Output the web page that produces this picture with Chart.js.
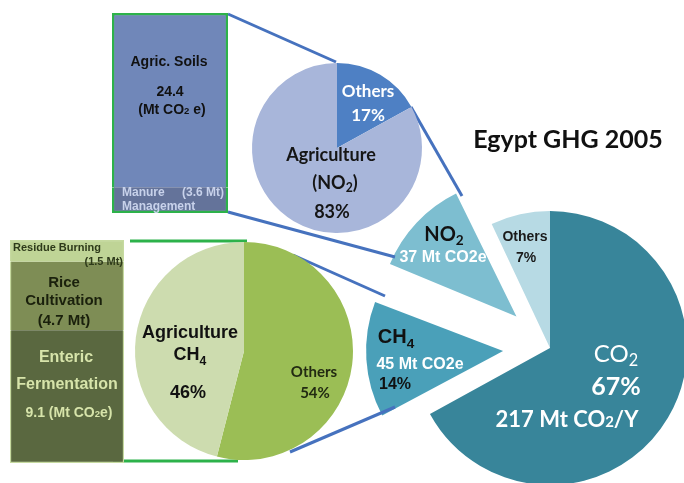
<!DOCTYPE html>
<html lang="en">
<head>
<meta charset="UTF-8">
<title>Egypt GHG 2005</title>
<script src="https://cdn.jsdelivr.net/npm/chart.js"></script>
<style>
  html, body { margin: 0; padding: 0; background: #fff; }
  #stage { position: relative; width: 684px; height: 483px; overflow: hidden; }
  #stage canvas { position: absolute; left: 0; top: 0; }
</style>
</head>
<body>
<div id="stage">
  <canvas id="ghg" width="684" height="483"></canvas>
  <canvas id="no2" width="684" height="483"></canvas>
  <canvas id="ch4" width="684" height="483"></canvas>
  <canvas id="no2src" width="684" height="483"></canvas>
  <canvas id="ch4src" width="684" height="483"></canvas>
</div>
<script>
// --- data ---
const gasLabels = ['CO2', 'CH4', 'NO2', 'Others'];
const gasShares = [67, 14, 12, 7];
const gasMt = [217, 45, 37];

const no2Labels = ['Others', 'Agriculture'];
const no2Shares = [17, 83];

const ch4Labels = ['Others', 'Agriculture'];
const ch4Shares = [54, 46];

const no2Sources = ['Manure Management', 'Agric. Soils'];
const no2SourceMt = [3.6, 24.4];

const ch4Sources = ['Enteric Fermentation', 'Rice Cultivation', 'Residue Burning'];
const ch4SourceMt = [9.1, 4.7, 1.5];

// --- styles ---
const gasColors = ['#38859a', '#4aa0b9', '#7dbed0', '#b7dae4'];
const gasExplode = [0, 188, 184, 0];
const no2Colors = ['#4e80c4', '#a8b6da'];
const ch4Colors = ['#9bbe55', '#cddcaf'];
const no2SrcColors = ['#64739a', '#7087b9'];
const ch4SrcColors = ['#5a6840', '#7e8d55', '#bfd496'];
const GREEN = '#2db24a';
const BLUE = '#4672be';
const PALE = '#c6daa0';
const ARIAL = 'Liberation Sans';
const CALIBRI = 'Lato';

Chart.defaults.animation = false;
Chart.defaults.events = [];
Chart.defaults.plugins.legend.display = false;
Chart.defaults.plugins.tooltip.enabled = false;

// text like 'NO{2}' -> NO with a subscript 2
function drawText(ctx, l) {
  const weight = l.bold === false ? '' : 'bold ';
  const fam = l.font || ARIAL;
  const parts = l.text.split(/(\{[^}]*\})/).filter(s => s).map(s => {
    const sub = s[0] === '{';
    const text = sub ? s.slice(1, -1) : s;
    const size = sub ? l.size * 0.68 : l.size;
    ctx.font = weight + size + 'px "' + fam + '"';
    return { text, sub, size, width: ctx.measureText(text).width };
  });
  const total = parts.reduce((s, p) => s + p.width, 0);
  let x = l.align === 'left' ? l.x : l.align === 'right' ? l.x - total : l.x - total / 2;
  ctx.save();
  ctx.fillStyle = l.color;
  ctx.textBaseline = 'middle';
  ctx.textAlign = 'left';
  parts.forEach(p => {
    ctx.font = weight + p.size + 'px "' + fam + '"';
    ctx.fillText(p.text, x, l.y + (p.sub ? l.size * (l.subDrop || 0.28) : 0));
    x += p.width;
  });
  ctx.restore();
}

function textPlugin(list) {
  return {
    id: 'texts',
    afterDatasetsDraw(chart) {
      list.forEach(l => drawText(chart.ctx, l));
    }
  };
}

// chart.js pushes exploded slices out but also grows them; keep their radius
const keepRadius = {
  id: 'keepRadius',
  afterUpdate(chart) {
    chart.getDatasetMeta(0).data.forEach(arc => {
      const off = (arc.options.offset || 0) / 4;
      const fix = 1 - Math.sin(Math.min(Math.PI, arc.circumference));
      arc.outerRadius -= off * fix;
    });
  }
};

const blueLinks = [[228, 14, 336, 62], [411, 107, 462, 196], [228, 212, 395, 257],
                   [293, 255, 385, 296], [290, 452, 395, 407]];
const greenLinks = [[130, 241, 247, 241], [113, 461, 238, 461]];

const connectors = {
  id: 'connectors',
  afterDatasetsDraw(chart) {
    const ctx = chart.ctx;
    ctx.save();
    ctx.lineWidth = 3;
    ctx.strokeStyle = BLUE;
    blueLinks.forEach(([x1, y1, x2, y2]) => {
      ctx.beginPath(); ctx.moveTo(x1, y1); ctx.lineTo(x2, y2); ctx.stroke();
    });
    ctx.strokeStyle = GREEN;
    greenLinks.forEach(([x1, y1, x2, y2]) => {
      ctx.beginPath(); ctx.moveTo(x1, y1); ctx.lineTo(x2, y2); ctx.stroke();
    });
    ctx.restore();
  }
};

const gasText = [
  { text: 'Egypt GHG 2005', x: 568, y: 140, size: 25, font: CALIBRI, color: '#111' },
  { text: 'NO{2}', x: 444, y: 235, size: 20, font: CALIBRI, color: '#111' },
  { text: gasMt[2] + ' Mt CO2e', x: 443, y: 258, size: 16, color: '#fff' },
  { text: 'Others', x: 525, y: 237, size: 14, color: '#1a1a1a' },
  { text: gasShares[3] + '%', x: 526, y: 258, size: 14, color: '#1a1a1a' },
  { text: 'CH{4}', x: 396, y: 337, size: 20, color: '#111', subDrop: 0.35 },
  { text: gasMt[1] + ' Mt CO2e', x: 420, y: 365, size: 16, color: '#fff' },
  { text: gasShares[1] + '%', x: 395, y: 385, size: 16, color: '#111' },
  { text: 'CO{2}', x: 616, y: 354, size: 24, font: CALIBRI, bold: false, color: '#fff' },
  { text: gasShares[0] + '%', x: 616, y: 387, size: 25, font: CALIBRI, color: '#fff' },
  { text: gasMt[0] + ' Mt CO{2}/Y', x: 567, y: 420, size: 22, font: CALIBRI, color: '#fff', subDrop: 0.12 }
];

new Chart(document.getElementById('ghg'), {
  type: 'pie',
  data: {
    labels: gasLabels,
    datasets: [{ data: gasShares, backgroundColor: gasColors, borderWidth: 0, offset: gasExplode, clip: false }]
  },
  options: {
    responsive: false,
    radius: 137,
    layout: { padding: { left: 416, right: 0, top: 213, bottom: 0 } }
  },
  plugins: [keepRadius, connectors, textPlugin(gasText)]
});

const no2Text = [
  { text: no2Labels[0], x: 368, y: 92, size: 17, font: CALIBRI, color: '#fff' },
  { text: no2Shares[0] + '%', x: 368, y: 116, size: 17, font: CALIBRI, color: '#fff' },
  { text: no2Labels[1], x: 331, y: 155, size: 18, font: CALIBRI, color: '#151515' },
  { text: '(NO{2})', x: 335, y: 183, size: 18, font: CALIBRI, color: '#151515' },
  { text: no2Shares[1] + '%', x: 332, y: 212, size: 18, font: CALIBRI, color: '#151515' }
];

new Chart(document.getElementById('no2'), {
  type: 'pie',
  data: {
    labels: no2Labels,
    datasets: [{ data: no2Shares, backgroundColor: no2Colors, borderWidth: 0 }]
  },
  options: {
    responsive: false,
    radius: 85,
    layout: { padding: { left: 0, right: 10, top: 0, bottom: 187 } }
  },
  plugins: [textPlugin(no2Text)]
});

const ch4Text = [
  { text: ch4Labels[1], x: 190, y: 333, size: 18, color: '#111' },
  { text: 'CH{4}', x: 190, y: 355, size: 18, color: '#111', subDrop: 0.35 },
  { text: ch4Shares[1] + '%', x: 188, y: 393, size: 18, color: '#111' },
  { text: ch4Labels[0], x: 314, y: 372, size: 15, font: CALIBRI, color: '#222a12' },
  { text: ch4Shares[0] + '%', x: 315, y: 393, size: 15, font: CALIBRI, color: '#222a12' }
];

new Chart(document.getElementById('ch4'), {
  type: 'pie',
  data: {
    labels: ch4Labels,
    datasets: [{ data: ch4Shares, backgroundColor: ch4Colors, borderWidth: 0 }]
  },
  options: {
    responsive: false,
    radius: 109,
    layout: { padding: { left: 0, right: 196, top: 219, bottom: 0 } }
  },
  plugins: [textPlugin(ch4Text)]
});

const no2SrcText = [
  { text: no2Sources[1], x: 169, y: 62, size: 14, color: '#111' },
  { text: String(no2SourceMt[1]), x: 170, y: 92, size: 14, color: '#111' },
  { text: '(Mt CO{2} e)', x: 172, y: 110, size: 14, color: '#111', subDrop: 0.1 },
  { text: 'Manure', x: 122, y: 193, size: 12, align: 'left', color: '#c8d2eb' },
  { text: '(' + no2SourceMt[0] + ' Mt)', x: 224, y: 193, size: 12, align: 'right', color: '#c8d2eb' },
  { text: 'Management', x: 122, y: 207, size: 12, align: 'left', color: '#c8d2eb' }
];

const stackScales = (max) => ({
  x: { stacked: true, display: false },
  y: { stacked: true, display: false, min: 0, max: max }
});

new Chart(document.getElementById('no2src'), {
  type: 'bar',
  data: {
    labels: ['N2O'],
    datasets: no2Sources.map((name, i) => ({
      label: name,
      data: [no2SourceMt[i]],
      backgroundColor: no2SrcColors[i],
      borderColor: GREEN,
      borderSkipped: false,
      borderWidth: i === 0 ? { left: 2.5, right: 2.5, bottom: 2.5, top: 0 }
                           : { left: 2.5, right: 2.5, top: 2.5, bottom: 0 },
      barPercentage: 1,
      categoryPercentage: 1
    }))
  },
  options: {
    responsive: false,
    layout: { padding: { left: 112, right: 456, top: 13, bottom: 270 } },
    scales: stackScales(no2SourceMt.reduce((a, b) => a + b, 0))
  },
  plugins: [textPlugin(no2SrcText)]
});

const ch4SrcText = [
  { text: ch4Sources[2], x: 13, y: 248, size: 11, align: 'left', color: '#2e3a1a' },
  { text: '(' + ch4SourceMt[2] + ' Mt)', x: 123, y: 262, size: 11, align: 'right', color: '#2e3a1a' },
  { text: 'Rice', x: 64, y: 283, size: 15, color: '#1a200c' },
  { text: 'Cultivation', x: 64, y: 301, size: 15, color: '#1a200c' },
  { text: '(' + ch4SourceMt[1] + ' Mt)', x: 64, y: 321, size: 15, color: '#1a200c' },
  { text: 'Enteric', x: 66, y: 358, size: 16, color: '#d7e4aa' },
  { text: 'Fermentation', x: 67, y: 385, size: 16, color: '#d7e4aa' },
  { text: ch4SourceMt[0] + ' (Mt CO{2}e)', x: 69, y: 413, size: 14, color: '#d7e4aa', subDrop: 0.1 }
];

const ch4SrcBorders = [
  { left: 1.5, right: 1.5, bottom: 1.5, top: 0 },
  { left: 1.5, right: 1.5, bottom: 0, top: 0 },
  { left: 1.5, right: 1.5, bottom: 0, top: 1.5 }
];

new Chart(document.getElementById('ch4src'), {
  type: 'bar',
  data: {
    labels: ['CH4'],
    datasets: ch4Sources.map((name, i) => ({
      label: name,
      data: [ch4SourceMt[i]],
      backgroundColor: ch4SrcColors[i],
      borderColor: PALE,
      borderSkipped: false,
      borderWidth: ch4SrcBorders[i],
      barPercentage: 1,
      categoryPercentage: 1
    }))
  },
  options: {
    responsive: false,
    layout: { padding: { left: 10, right: 560, top: 240, bottom: 20 } },
    scales: stackScales(ch4SourceMt.reduce((a, b) => a + b, 0))
  },
  plugins: [textPlugin(ch4SrcText)]
});
</script>
</body>
</html>
